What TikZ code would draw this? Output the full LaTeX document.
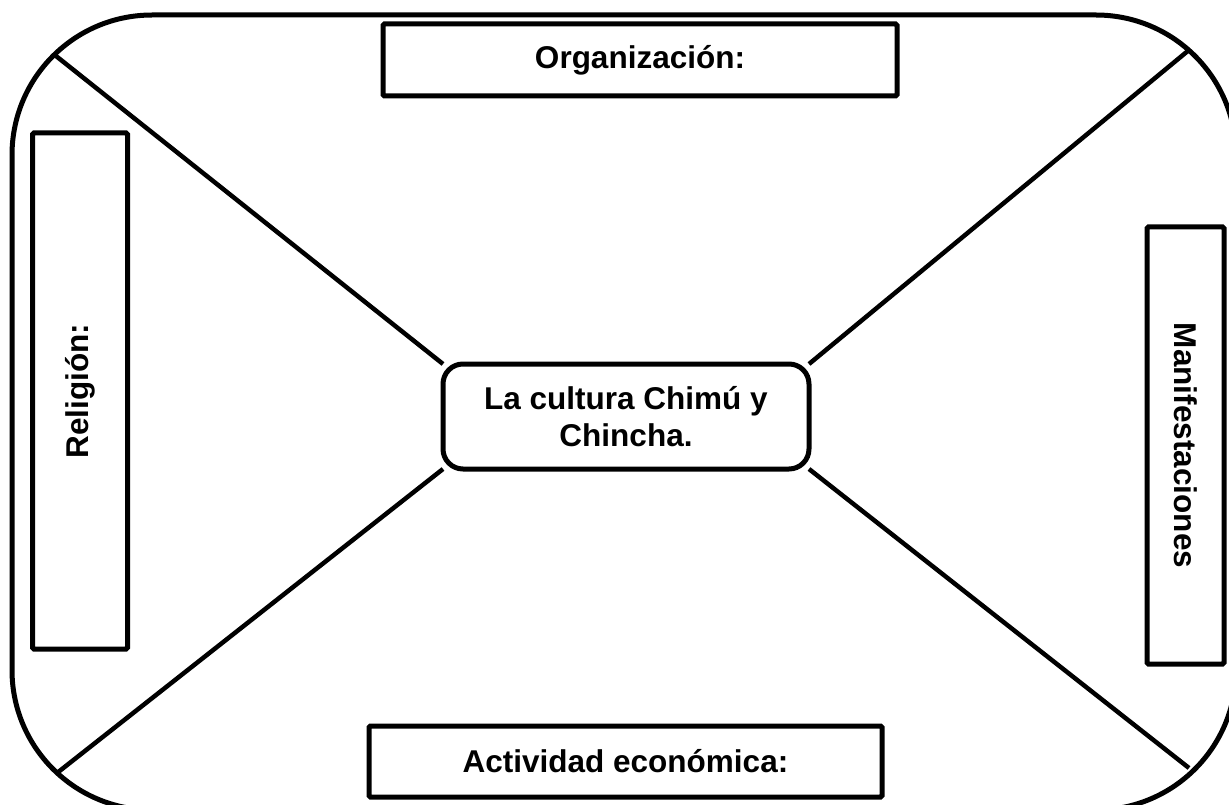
\documentclass[tikz,border=0pt]{standalone}
\usepackage{fontspec}
\setmainfont{Liberation Sans}
\usetikzlibrary{backgrounds}
\begin{document}
\begin{tikzpicture}[x=1pt,y=-1pt,
  every node/.style={font=\fontsize{31.5}{37}\selectfont\bfseries, inner sep=0pt, outer sep=0pt},
  frame/.style={line width=5pt},
  labelbox/.style={draw, line width=5pt, fill=white, rounded corners=1.5pt, align=center},
  hub/.style={draw, line width=5pt, fill=white, rounded corners=20pt, align=center, minimum width=366pt, minimum height=105pt},
  spoke/.style={line width=4.5pt}]
\useasboundingbox (0,0) rectangle (1229,805);
\clip (0,0) rectangle (1229,805);
\draw[frame, rounded corners=140pt] (12,15) rectangle (1236,810);
\node[hub] (hub) at (626,416.5) {La cultura Chimú y\\Chincha.};
\node[labelbox, minimum width=514pt, minimum height=72pt] (org) at (640,60) {Organización:};
\node[labelbox, minimum width=513pt, minimum height=71pt] (eco) at (625.5,761.5) {Actividad económica:};
\node[labelbox, rotate=90, minimum width=516pt, minimum height=95pt] (rel) at (80,391) {Religión:};
\node[labelbox, rotate=-90, minimum width=437pt, minimum height=77pt] (man) at (1185.5,445.5) {Manifestaciones};
\coordinate (tl) at (56,56);
\coordinate (tr) at (1189,50);
\coordinate (bl) at (57,773);
\coordinate (br) at (1189,768);
\begin{pgfonlayer}{background}
\draw[spoke] (tl) -- (hub.north west);
\draw[spoke] (tr) -- (hub.north east);
\draw[spoke] (bl) -- (hub.south west);
\draw[spoke] (br) -- (hub.south east);
\end{pgfonlayer}
\end{tikzpicture}
\end{document}
